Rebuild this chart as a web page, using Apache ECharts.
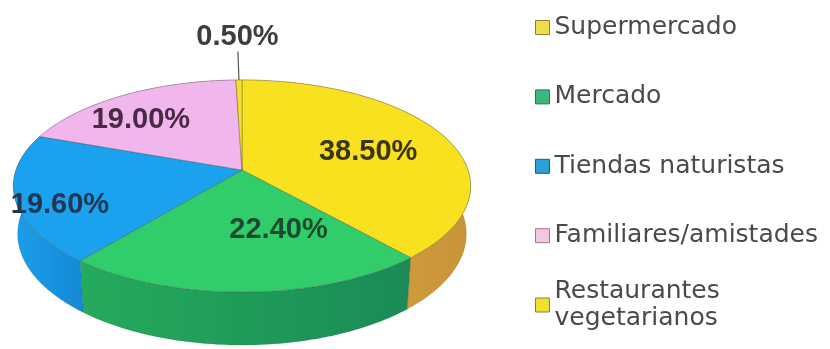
<!DOCTYPE html>
<html>
<head>
<meta charset="utf-8">
<script src="https://cdn.jsdelivr.net/npm/echarts@6/dist/echarts.min.js"></script>
<style>
  html, body { margin: 0; padding: 0; background: #ffffff; }
  #chart { width: 830px; height: 349px; }
</style>
</head>
<body>
<div id="chart"></div>
<script>
// ---- data ----
const categories = ['Supermercado', 'Mercado', 'Tiendas naturistas', 'Familiares/amistades', 'Restaurantes vegetarianos'];
const shares = [38.5, 22.4, 19.6, 19.0, 0.5];
const legendLabels = ['Supermercado', 'Mercado', 'Tiendas naturistas', 'Familiares/amistades', 'Restaurantes\nvegetarianos'];

// ---- styling ----
const topColors = ['#f8e11f', '#32cd6b', '#1aa2ee', '#f1b6eb', '#f6e02a'];
const wallColors = [
  ['#dcab44', '#c99338'],
  ['#25ab5d', '#1a8b56'],
  ['#1c9fea', '#1589d6'],
  ['#d99fd3', '#c48bbf'],
  ['#dcab44', '#c99338']
];
const labelColors = ['#3b3416', '#1c4a2e', '#1f3752', '#4a2947', '#3d3d3d'];
const legendColors = ['#eedd4a', '#3db780', '#2a9fd8', '#f3c6e6', '#f0e032'];
const legendBorders = ['#8f7f35', '#2b7658', '#1c5a86', '#a07592', '#8f7f35'];

// percentage label placement: radius fraction and angular nudge (degrees)
const labelRadius = [0.60, 0.55, 0.83, 0.71, 1.59];
const labelNudge = [3.5, -14.6, -7, -6.8, 0];
const leaderReach = 1.38;

// tilted disc seen in perspective
const VIEW = { cx: 242, cy: 170, dist: 5.88, focal: 1329, tilt: 27.3, depth: 0.24 };
const ca = Math.cos(VIEW.tilt * Math.PI / 180);
const sa = Math.sin(VIEW.tilt * Math.PI / 180);

function project(r, deg, h) {
  const t = deg * Math.PI / 180;
  const u = r * Math.sin(t);
  const w = r * Math.cos(t);
  const d = VIEW.dist + w * ca - h * sa;
  return [VIEW.cx + VIEW.focal * u / d, VIEW.cy - VIEW.focal * (w * sa + h * ca) / d];
}

const total = shares.reduce((s, v) => s + v, 0);
const starts = [];
shares.reduce((acc, v, i) => { starts[i] = 360 * acc / total; return acc + v; }, 0);

function renderSlice(i) {
  return function (params, api) {
    const value = api.value(0);
    const a0 = starts[i];
    const a1 = a0 + 360 * value / total;
    const steps = Math.max(2, Math.ceil(a1 - a0));
    const rim = [], base = [];
    for (let k = 0; k <= steps; k++) {
      const a = a0 + (a1 - a0) * k / steps;
      rim.push(project(1, a, 0));
      base.push(project(1, a, -VIEW.depth));
    }
    const wall = rim.concat(base.slice().reverse());
    const top = [project(0, 0, 0)].concat(rim);
    const mid = (a0 + a1) / 2 + labelNudge[i];
    const lp = project(labelRadius[i], mid, 0);

    const children = [
      {
        type: 'polygon', z2: 1,
        shape: { points: wall },
        style: {
          fill: new echarts.graphic.LinearGradient(0, 0, 1, 0, [
            { offset: 0, color: wallColors[i][0] },
            { offset: 1, color: wallColors[i][1] }
          ]),
          stroke: 'rgba(0,0,0,0.18)', lineWidth: 0.6
        }
      },
      {
        type: 'polygon', z2: 5,
        shape: { points: top },
        style: { fill: topColors[i], stroke: 'rgba(70,70,70,0.45)', lineWidth: 0.8 }
      },
      {
        type: 'text', z2: 8,
        style: {
          text: value.toFixed(2) + '%',
          x: lp[0], y: lp[1],
          align: 'center', verticalAlign: 'middle',
          font: 'bold 29px "Liberation Sans", Arial, sans-serif',
          fill: labelColors[i]
        }
      }
    ];
    if (labelRadius[i] > 1) {
      const p0 = project(1, mid, 0);
      const p1 = project(leaderReach, mid, 0);
      children.push({
        type: 'line', z2: 7,
        shape: { x1: p0[0], y1: p0[1], x2: p1[0], y2: p1[1] },
        style: { stroke: '#55555f', lineWidth: 1.2 }
      });
    }
    return { type: 'group', children: children };
  };
}

const legendText = { fontFamily: '"DejaVu Sans", sans-serif', fontSize: 25, color: '#4a4a4a', lineHeight: 28 };
const legendItem = (i) => ({
  name: categories[i],
  itemStyle: { color: legendColors[i], borderColor: legendBorders[i], borderWidth: 1 }
});

const chart = echarts.init(document.getElementById('chart'));
chart.setOption({
  animation: false,
  backgroundColor: '#ffffff',
  legend: [
    {
      orient: 'vertical', left: 535, top: 13.5, padding: 0,
      itemWidth: 14, itemHeight: 14, itemGap: 41.4, icon: 'rect',
      selectedMode: false, textStyle: legendText,
      formatter: (name) => legendLabels[categories.indexOf(name)],
      data: [0, 1, 2, 3].map(legendItem)
    },
    {
      orient: 'vertical', left: 535, top: 264.5, padding: 0,
      itemWidth: 14, itemHeight: 14, icon: 'rect',
      selectedMode: false,
      textStyle: Object.assign({}, legendText, { lineHeight: 27 }),
      formatter: (name) => legendLabels[categories.indexOf(name)],
      data: [Object.assign(legendItem(4), { textStyle: { padding: [27, 0, 0, 0], lineHeight: 27 } })]
    }
  ],
  series: categories.map((name, i) => ({
    type: 'custom',
    name: name,
    coordinateSystem: 'none',
    silent: true,
    itemStyle: { color: legendColors[i] },
    data: [shares[i]],
    renderItem: renderSlice(i)
  }))
});
</script>
</body>
</html>
